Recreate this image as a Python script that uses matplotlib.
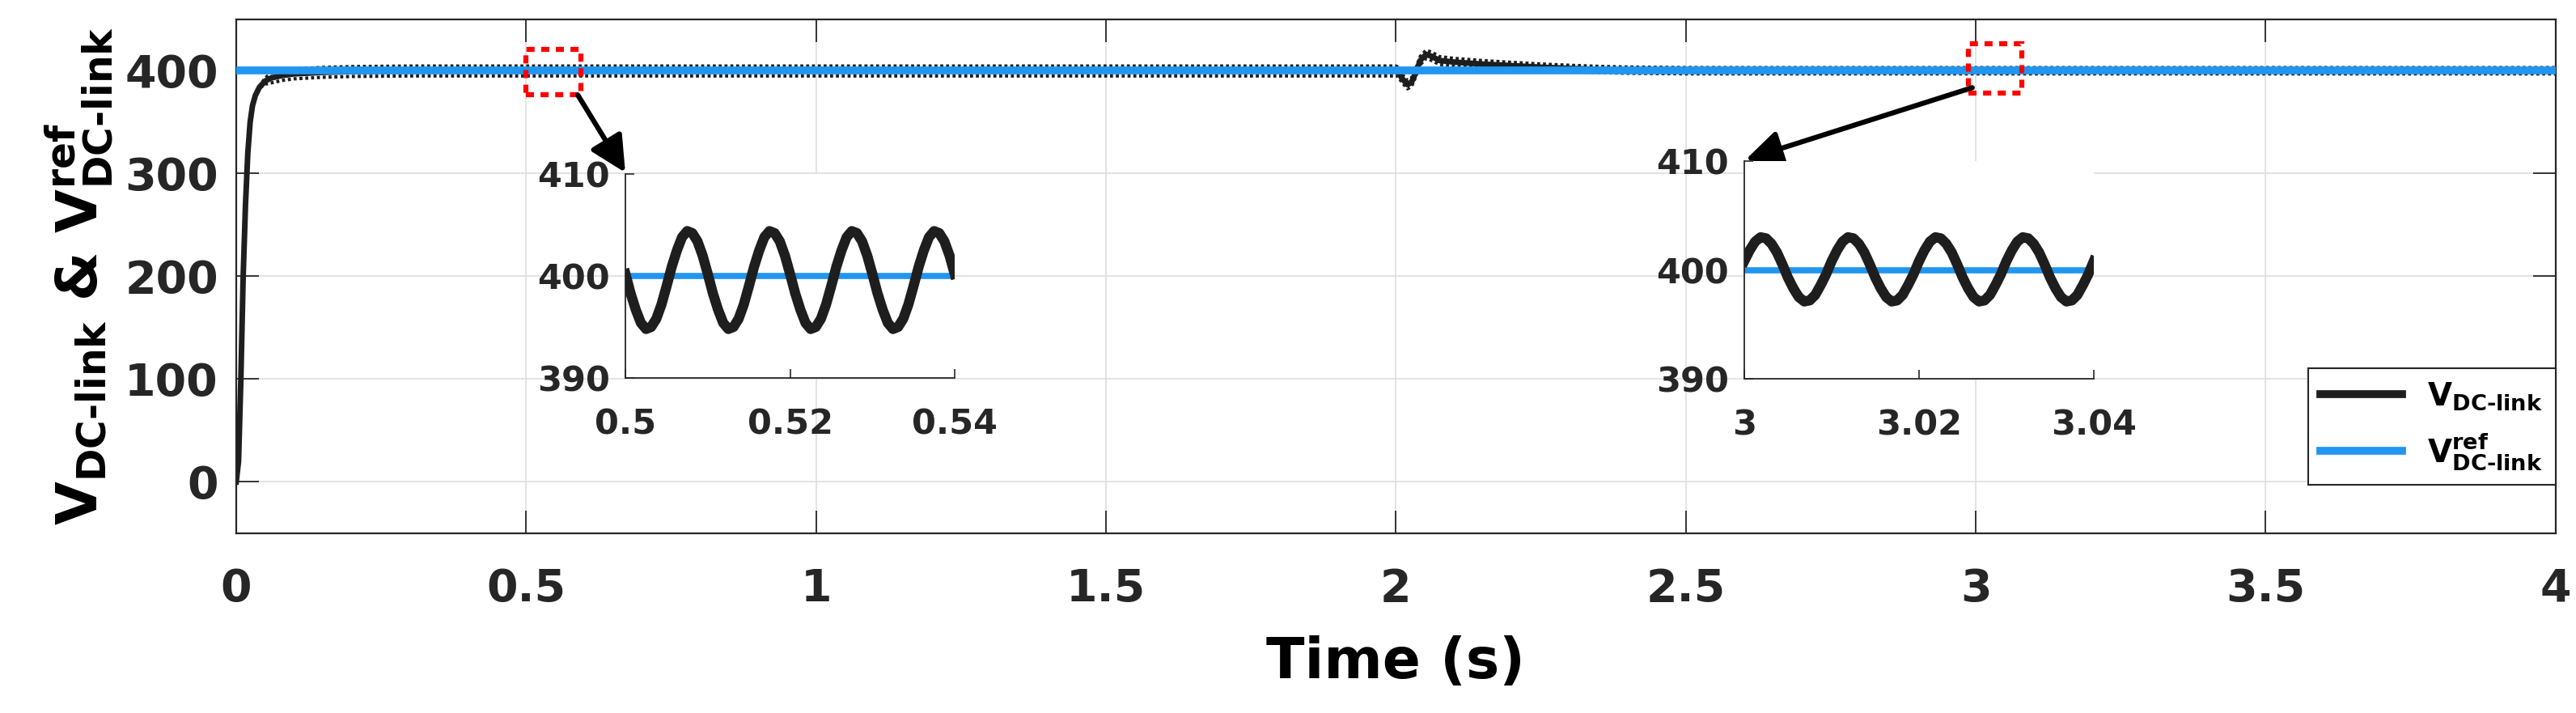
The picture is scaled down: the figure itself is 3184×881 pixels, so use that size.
import numpy as np
import matplotlib
matplotlib.use("Agg")
import matplotlib.pyplot as plt
from matplotlib.patches import Rectangle
from matplotlib.lines import Line2D
from matplotlib.ticker import FormatStrFormatter

plt.rcParams['font.family'] = ['DejaVu Sans']
plt.rcParams['font.weight'] = 'bold'
plt.rcParams['axes.labelweight'] = 'bold'
plt.rcParams['mathtext.fontset'] = 'dejavusans'
plt.rcParams['mathtext.default'] = 'bf'

# main trace: mean DC-link voltage and ripple amplitude (V)
t_main = [0, 0.004, 0.008, 0.012, 0.016, 0.02, 0.024, 0.028, 0.033, 0.04,
          0.05, 0.06, 0.08, 0.1, 0.15, 0.2, 0.3, 1.0, 2.0, 2.004,
          2.01, 2.02, 2.027, 2.034, 2.042, 2.052, 2.062, 2.075, 2.1, 2.15,
          2.2, 2.25, 2.3, 2.35, 2.4, 2.5, 2.6, 3.0, 4.0]
v_main = [0, 20, 100, 200, 270, 320, 350, 366, 376, 384,
          390, 393, 395.5, 397, 398.5, 399.3, 399.8, 399.8, 399.8, 399,
          393, 386.5, 389, 398, 410, 416, 414, 410, 408.5, 406.5,
          405, 403.5, 402.3, 401.3, 400.6, 400.1, 400.05, 400.05, 400.05]
ripple = [0, 0, 0, 0, 0, 0, 0, 0, 0, 1,
          3, 4.8, 4.8, 4.8, 4.8, 4.8, 4.8, 4.8, 4.8, 4.5,
          4, 4, 4, 4, 4, 4, 4, 3.8, 3.6, 3.4,
          3.2, 3.1, 3, 3, 3, 3, 3, 3, 3]
v_ref = 400

# zoom 1: 0.5 .. 0.54 s
t_in1 = np.linspace(0.5, 0.54, 65)
v_in1 = [400.2, 398.3, 396.7, 395.4, 394.8, 395.0, 395.8, 397.2, 399.0, 400.9, 402.5, 403.8, 404.4, 404.2, 403.4, 402.0,
         400.2, 398.3, 396.7, 395.4, 394.8, 395.0, 395.8, 397.2, 399.0, 400.9, 402.5, 403.8, 404.4, 404.2, 403.4, 402.0,
         400.2, 398.3, 396.7, 395.4, 394.8, 395.0, 395.8, 397.2, 399.0, 400.9, 402.5, 403.8, 404.4, 404.2, 403.4, 402.0,
         400.2, 398.3, 396.7, 395.4, 394.8, 395.0, 395.8, 397.2, 399.0, 400.9, 402.5, 403.8, 404.4, 404.2, 403.4, 402.0,
         400.2]

# zoom 2: 3.0 .. 3.04 s
t_in2 = np.linspace(3.0, 3.04, 65)
v_in2 = [400.8, 401.8, 402.6, 403.0, 402.9, 402.4, 401.6, 400.5, 399.3, 398.3, 397.5, 397.1, 397.2, 397.7, 398.6, 399.6,
         400.8, 401.8, 402.6, 403.0, 402.9, 402.4, 401.6, 400.5, 399.3, 398.3, 397.5, 397.1, 397.2, 397.7, 398.6, 399.6,
         400.8, 401.8, 402.6, 403.0, 402.9, 402.4, 401.6, 400.5, 399.3, 398.3, 397.5, 397.1, 397.2, 397.7, 398.6, 399.6,
         400.8, 401.8, 402.6, 403.0, 402.9, 402.4, 401.6, 400.5, 399.3, 398.3, 397.5, 397.1, 397.2, 397.7, 398.6, 399.6,
         400.8]

black = '#1e1e1e'
blue = '#2196f0'
lab_v = r'$V_{DC‐link}$'
lab_ref = r'$V_{DC‐link}^{ref}$'

fig = plt.figure(figsize=(31.84, 8.81), dpi=100)
ax = fig.add_axes([0.0917, 0.2520, 0.9004, 0.7208])

upper = np.array(v_main) + np.array(ripple)
lower = np.array(v_main) - np.array(ripple)
ax.plot(t_main, v_main, color=black, lw=5, zorder=2)
ax.plot(t_main, upper, color=black, lw=3, ls=(0, (0.9, 0.83)), zorder=2)
ax.plot(t_main, lower, color=black, lw=3, ls=(0, (0.9, 0.83)), zorder=2)
ax.plot([0, 4], [v_ref, v_ref], color=blue, lw=7, zorder=3)

ax.set_xlim(0, 4)
ax.set_ylim(-50, 450)
ax.set_xticks(np.arange(0, 4.01, 0.5))
ax.set_yticks([0, 100, 200, 300, 400])
ax.xaxis.set_major_formatter(FormatStrFormatter('%g'))
ax.tick_params(direction='in', length=20, width=1.3, top=True, right=True,
               labelsize=40, colors='#262626')
ax.tick_params(axis='x', pad=30)
ax.tick_params(axis='y', pad=16)
ax.set_axisbelow(True)
ax.grid(True, color='#dedede', lw=1.2)
for s in ax.spines.values():
    s.set_color('#262626')
    s.set_linewidth(1.6)

ax.set_xlabel('Time (s)', fontsize=50, labelpad=22)
ax.set_ylabel(lab_v + ' & ' + lab_ref, fontsize=50, labelpad=8)

# zoom boxes and arrows
ax.add_patch(Rectangle((0.5, 376.5), 0.095, 44.5, fill=False, ec='#ff0000',
                       lw=4.5, ls=(0, (1.6, 1.3)), zorder=6))
ax.add_patch(Rectangle((2.987, 378.5), 0.092, 48, fill=False, ec='#ff0000',
                       lw=4.5, ls=(0, (1.6, 1.3)), zorder=6))
arrow = dict(arrowstyle='-|>,head_length=0.9,head_width=0.45', lw=4.5,
             color='k', shrinkA=0, shrinkB=0, mutation_scale=30)
ax.annotate('', xy=(0.671, 301), xytext=(0.589, 376.5), arrowprops=arrow,
            annotation_clip=False, zorder=7)
ax.annotate('', xy=(2.603, 313.5), xytext=(2.994, 383.6), arrowprops=arrow,
            annotation_clip=False, zorder=7)

handles = [Line2D([], [], color=black, lw=7), Line2D([], [], color=blue, lw=7)]
leg = ax.legend(handles, [lab_v, lab_ref], loc='lower right',
                bbox_to_anchor=(1.0, 0.0945), borderaxespad=0, fontsize=28,
                fancybox=False, framealpha=1, edgecolor='#262626',
                handlelength=2.6, labelspacing=0.6)
leg.get_frame().set_linewidth(1.5)


def make_inset(rect, t, v, xt, xl):
    ins = fig.add_axes(rect, facecolor='white')
    ins.plot([xt[0], xt[-1]], [v_ref, v_ref], color=blue, lw=5.5)
    ins.plot(t, v, color=black, lw=9)
    ins.set_xlim(xt[0], xt[-1])
    ins.set_ylim(390, 410)
    ins.set_xticks(xt)
    ins.set_xticklabels(xl)
    ins.set_yticks([390, 400, 410])
    ins.spines['top'].set_visible(False)
    ins.spines['right'].set_visible(False)
    for s in ['left', 'bottom']:
        ins.spines[s].set_linewidth(1.3)
        ins.spines[s].set_color('#262626')
    ins.tick_params(direction='in', length=8, width=1.2, labelsize=31,
                    colors='#262626')
    ins.tick_params(axis='x', pad=26)
    ins.tick_params(axis='y', pad=14)
    return ins


make_inset([0.2428, 0.4699, 0.1278, 0.2861], t_in1, v_in1,
           [0.5, 0.52, 0.54], ['0.5', '0.52', '0.54'])
make_inset([0.6771, 0.4688, 0.1357, 0.3053], t_in2, v_in2,
           [3.0, 3.02, 3.04], ['3', '3.02', '3.04'])

fig.savefig('out.png', dpi=100)
